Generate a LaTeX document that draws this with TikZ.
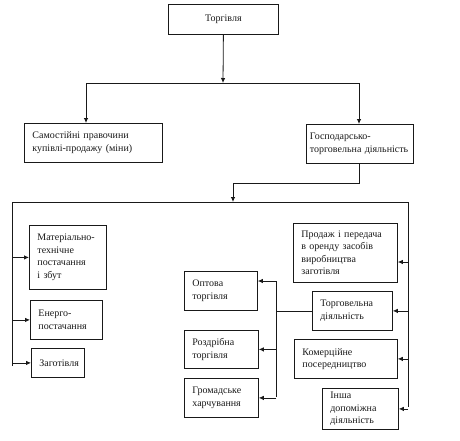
\documentclass[tikz,border=0pt]{standalone}
\usepackage{fontspec}
\setmainfont{Liberation Serif}
\usetikzlibrary{arrows.meta}
\begin{document}
\begin{tikzpicture}[x=1pt,y=-1pt,
  box/.style={draw=black!90, line width=0.8pt, anchor=north west, align=left,
    inner xsep=8pt, inner ysep=2pt, font=\fontsize{10}{12.5}\selectfont, text=black!90},
  ln/.style={draw=black!90, line width=0.8pt},
  arr/.style={ln, -{Latex[length=5pt,width=4.5pt]}}]
\useasboundingbox (0,0) rectangle (460,440);
% boxes: text width = W-16
\node[box, align=center, text width=94pt, minimum height=30pt] (torg) at (168,4) {Торгівля};
\node[box, text width=122pt, minimum height=39pt] (samo) at (24,123) {Самостійні правочини\\купівлі-продажу (міни)};
\node[box, inner xsep=3.5pt, text width=100pt, minimum height=39pt] (gosp) at (306,124) {Господарсько-\\торговельна діяльність};
\node[box, text width=61pt, minimum height=64pt] (mat) at (29,225) {Матеріально-\\технічне\\постачання\\і збут};
\node[box, text width=56pt, minimum height=39pt] (ener) at (30,300) {Енерго-\\постачання};
\node[box, text width=37pt, minimum height=29pt] (zag) at (31,348) {Заготівля};
\node[box, text width=88pt, minimum height=59pt] (prod) at (293,223) {Продаж і передача\\в оренду засобів\\виробництва\\заготівля};
\node[box, text width=64pt, minimum height=39pt] (torh) at (312,291) {Торговельна\\діяльність};
\node[box, text width=87pt, minimum height=39pt] (kom) at (294,339) {Комерційне\\посередництво};
\node[box, text width=60pt, minimum height=41pt] (insh) at (322,388) {Інша\\допоміжна\\діяльність};
\node[box, text width=57pt, minimum height=39pt] (opt) at (184,271) {Оптова\\торгівля};
\node[box, text width=58pt, minimum height=38pt] (rozd) at (184,330) {Роздрібна\\торгівля};
\node[box, text width=58pt, minimum height=39pt] (grom) at (184,378) {Громадське\\харчування};
% junctions
\coordinate (a1) at (223,83);
\coordinate (a2) at (86,83);
\coordinate (a3) at (359,83);
\coordinate (b1) at (359,183);
\coordinate (b2) at (233,183);
\coordinate (b3) at (233,202);
\coordinate (c1) at (12,202);
\coordinate (c2) at (408,202);
\coordinate (c3) at (12,366);
\coordinate (c4) at (408,407);
\coordinate (r1) at (408,262);
\coordinate (d1) at (276,311);
\coordinate (d2) at (276,281);
\coordinate (d3) at (276,397);
% connectors
\draw[arr] (torg.south) -- (a1);
\draw[ln] (a2) -- (a3);
\draw[arr] (a2) -- (a2 |- samo.north);
\draw[arr] (a3) -- (a3 |- gosp.north);
\draw[ln] (gosp.south -| b1) -- (b1) -- (b2);
\draw[arr] (b2) -- (b3);
\draw[ln] (c3) -- (c1) -- (c2) -- (c4);
\draw[arr] (c1 |- mat.west) -- (mat.west);
\draw[arr] (c1 |- ener.west) -- (ener.west);
\draw[arr] (c1 |- zag.west) -- (zag.west);
\draw[arr] (r1) -- (r1 -| prod.east);
\draw[arr] (c2 |- torh.east) -- (torh.east);
\draw[arr] (c2 |- kom.east) -- (kom.east);
\draw[arr] (c2 |- insh.east) -- (insh.east);
\draw[ln] (torh.west |- d1) -- (d1);
\draw[ln] (d2) -- (d3);
\draw[arr] (d2) -- (d2 -| opt.east);
\draw[arr] (d2 |- rozd.east) -- (rozd.east);
\draw[arr] (d2 |- grom.east) -- (grom.east);
\end{tikzpicture}
\end{document}
